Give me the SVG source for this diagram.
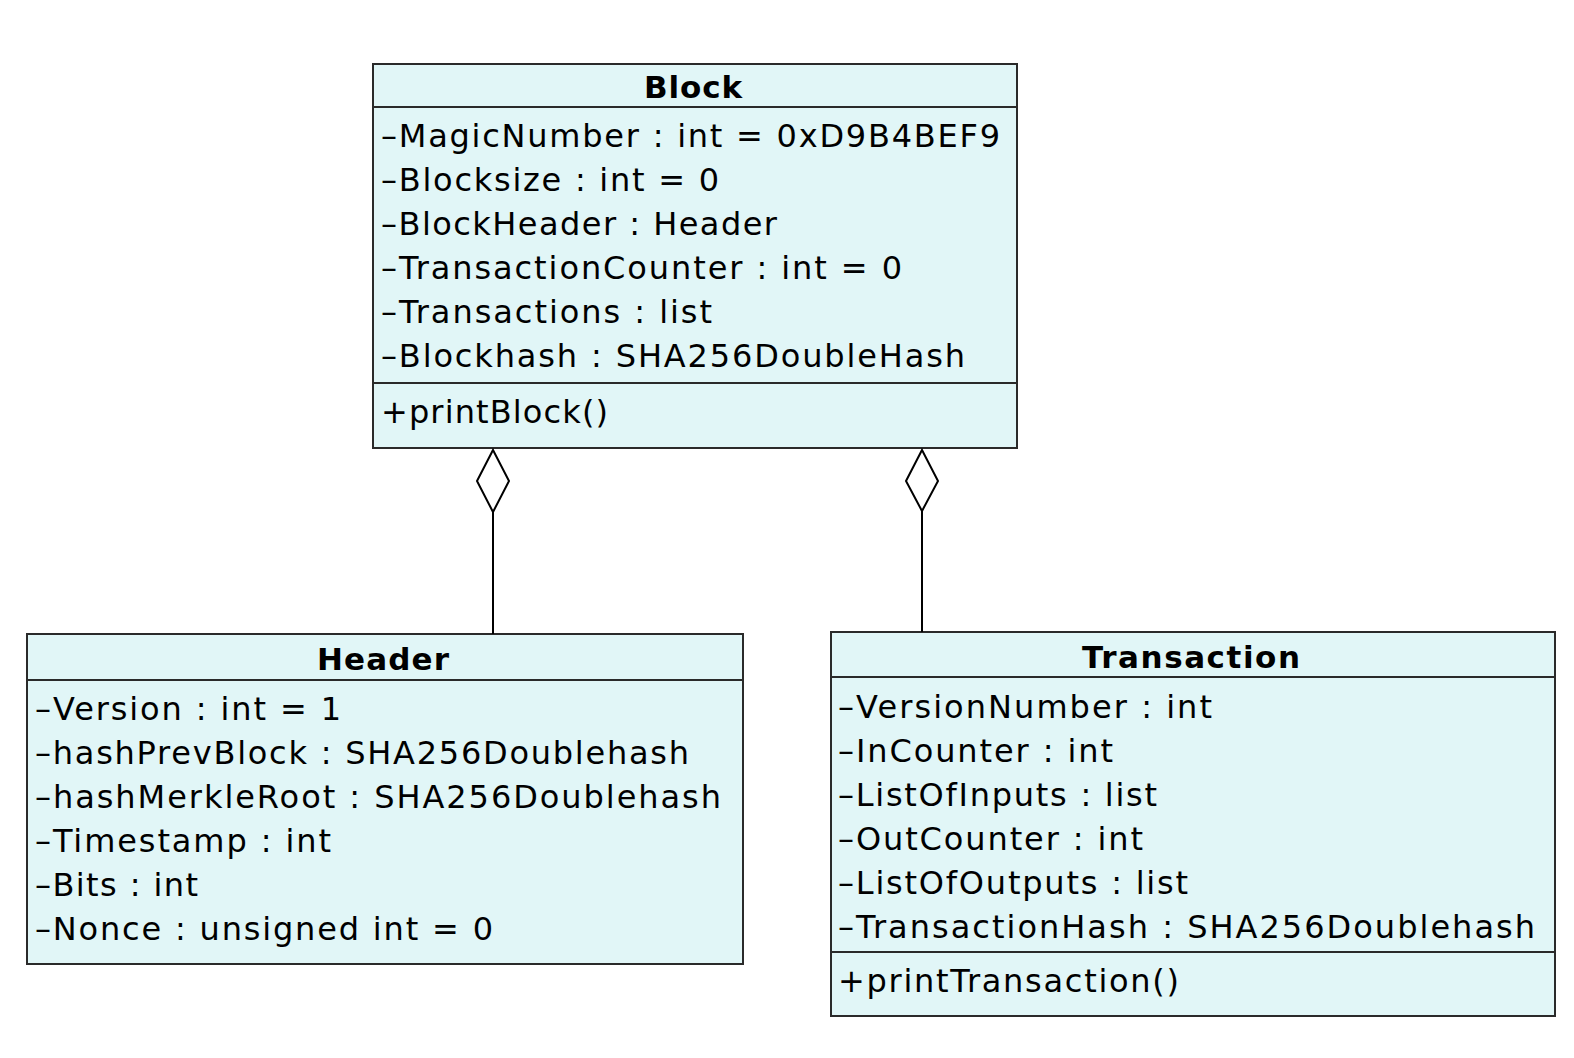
<svg xmlns="http://www.w3.org/2000/svg" width="1574" height="1058" viewBox="0 0 1574 1058">
<style>
.box{fill:#E1F6F7;stroke:#2a2a2a;stroke-width:2}
.div{stroke:#2a2a2a;stroke-width:2}
.t{font-family:"DejaVu Sans",sans-serif;font-size:32px;fill:#000}
.h{font-family:"DejaVu Sans",sans-serif;font-size:31px;font-weight:bold;fill:#000;text-anchor:middle}
.c{stroke:#000;stroke-width:2;fill:none}
.dia{fill:#fff;stroke:#000;stroke-width:2}
</style>
<rect width="1574" height="1058" fill="#fff"/>
<g id="Block">
<rect class="box" x="373" y="64" width="644" height="384"/>
<line class="div" x1="373" y1="107" x2="1017" y2="107"/>
<line class="div" x1="373" y1="383" x2="1017" y2="383"/>
<text class="h" x="693" y="98" textLength="98">Block</text>
<text class="t" x="381" y="147" textLength="619">–MagicNumber : int = 0xD9B4BEF9</text>
<text class="t" x="381" y="191" textLength="338">–Blocksize : int = 0</text>
<text class="t" x="381" y="235" textLength="396">–BlockHeader : Header</text>
<text class="t" x="381" y="279" textLength="521">–TransactionCounter : int = 0</text>
<text class="t" x="381" y="323" textLength="331">–Transactions : list</text>
<text class="t" x="381" y="367" textLength="584">–Blockhash : SHA256DoubleHash</text>
<text class="t" x="381" y="423" textLength="227">+printBlock()</text>
</g>
<g id="Header">
<rect class="box" x="27" y="634" width="716" height="330"/>
<line class="div" x1="27" y1="680" x2="743" y2="680"/>
<text class="h" x="383" y="670" textLength="132">Header</text>
<text class="t" x="35" y="720" textLength="306">–Version : int = 1</text>
<text class="t" x="35" y="764" textLength="654">–hashPrevBlock : SHA256Doublehash</text>
<text class="t" x="35" y="808" textLength="686">–hashMerkleRoot : SHA256Doublehash</text>
<text class="t" x="35" y="852" textLength="296">–Timestamp : int</text>
<text class="t" x="35" y="896" textLength="163">–Bits : int</text>
<text class="t" x="35" y="940" textLength="458">–Nonce : unsigned int = 0</text>
</g>
<g id="Transaction">
<rect class="box" x="831" y="632" width="724" height="384"/>
<line class="div" x1="831" y1="677" x2="1555" y2="677"/>
<line class="div" x1="831" y1="952" x2="1555" y2="952"/>
<text class="h" x="1191" y="668" textLength="218">Transaction</text>
<text class="t" x="838" y="718" textLength="374">–VersionNumber : int</text>
<text class="t" x="838" y="762" textLength="275">–InCounter : int</text>
<text class="t" x="838" y="806" textLength="319">–ListOfInputs : list</text>
<text class="t" x="838" y="850" textLength="305">–OutCounter : int</text>
<text class="t" x="838" y="894" textLength="350">–ListOfOutputs : list</text>
<text class="t" x="838" y="938" textLength="697">–TransactionHash : SHA256Doublehash</text>
<text class="t" x="838" y="992" textLength="341">+printTransaction()</text>
</g>
<g id="connectors">
<line class="c" x1="493" y1="512" x2="493" y2="634"/>
<polygon class="dia" points="493,450 509,481 493,512 477,481"/>
<line class="c" x1="922" y1="511" x2="922" y2="632"/>
<polygon class="dia" points="922,450 938,481 922,511 906,481"/>
</g>
</svg>
